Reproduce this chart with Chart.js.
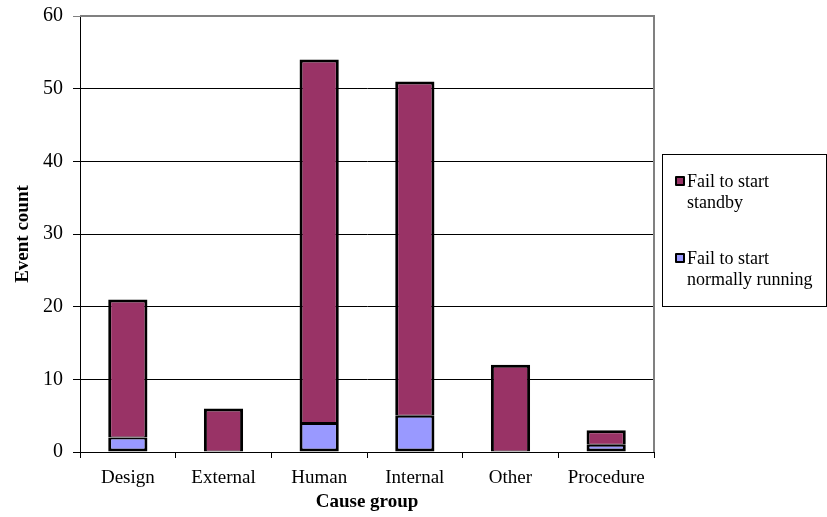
<!DOCTYPE html>
<html lang="en">
<head>
    <meta charset="UTF-8">
    <script src="https://cdn.jsdelivr.net/npm/chart.js"></script>
    <title>Event count by cause group</title>
    <style>
        body { margin: 0; background: #fff; }
        .wrap { position: relative; width: 827px; height: 517px; }
        #legend {
            position: absolute; left: 662px; top: 154px; width: 165px; height: 153px;
            border: 1px solid #000; box-sizing: border-box;
            font-family: "Liberation Serif", serif; font-size: 18px; color: #000;
        }
        .item { position: absolute; left: 12px; line-height: 21px; padding-left: 12px; }
        .item i {
            position: absolute; left: 0; top: 5px; width: 6px; height: 6px;
            border: 2px solid #000; border-radius: 1px;
        }
    </style>
</head>
<body>
<div class="wrap">
    <canvas id="chart" width="827" height="517"></canvas>
    <div id="legend"></div>
</div>
<script>
    const categories = ['Design', 'External', 'Human', 'Internal', 'Other', 'Procedure'];
    const normallyRunning = [2, 0, 4, 5, 0, 1];
    const standby = [19, 6, 50, 46, 12, 2];
    const yTicks = [0, 10, 20, 30, 40, 50, 60];

    const family = '"Liberation Serif", "Times New Roman", serif';

    // gray frame round the plot area (top and right edges)
    const frame = {
        id: 'frame',
        beforeDatasetsDraw(chart) {
            const a = chart.chartArea, ctx = chart.ctx;
            ctx.save();
            ctx.strokeStyle = '#808080';
            ctx.lineWidth = 2;
            ctx.beginPath();
            ctx.moveTo(a.left, a.top);
            ctx.lineTo(a.right, a.top);
            ctx.lineTo(a.right, a.bottom);
            ctx.stroke();
            ctx.restore();
        }
    };

    const chart = new Chart(document.getElementById('chart'), {
        type: 'bar',
        data: {
            labels: categories,
            datasets: [
                {
                    label: 'Fail to start normally running',
                    data: normallyRunning,
                    backgroundColor: '#9999FF',
                    borderColor: '#000',
                    borderWidth: { top: 2, left: 3, right: 3, bottom: 3 },
                    borderSkipped: false
                },
                {
                    label: 'Fail to start standby',
                    data: standby,
                    backgroundColor: '#993366',
                    borderColor: '#000',
                    borderWidth: { top: 3, left: 3, right: 3, bottom: 1 },
                    borderSkipped: false
                }
            ]
        },
        options: {
            responsive: false,
            animation: false,
            layout: { padding: { top: 0, right: 173, bottom: 5, left: 14 } },
            datasets: { bar: { barPercentage: 0.41, categoryPercentage: 1 } },
            plugins: { legend: { display: false }, tooltip: { enabled: false } },
            scales: {
                x: {
                    stacked: true,
                    afterFit: axis => { axis.height = 60; },
                    grid: { drawOnChartArea: false, drawTicks: true, tickLength: 6, color: '#000' },
                    border: { color: '#000', width: 1 },
                    ticks: { color: '#000', font: { family: family, size: 19 }, padding: 9 },
                    title: { display: true, text: 'Cause group', color: '#000', padding: 0,
                        font: { family: family, size: 19, weight: 'bold', lineHeight: 1 } }
                },
                y: {
                    stacked: true,
                    min: 0,
                    max: 60,
                    afterFit: axis => { axis.width = 66; },
                    afterBuildTicks: axis => { axis.ticks = yTicks.map(v => ({ value: v })); },
                    grid: {
                        tickLength: 7,
                        color: ctx => ctx.tick && ctx.tick.value === 60 ? '#808080' : '#000'
                    },
                    border: { color: '#000', width: 1 },
                    ticks: { color: '#000', font: { family: family, size: 20, lineHeight: 0.6 }, padding: 10 },
                    title: { display: true, text: 'Event count', color: '#000', padding: 0,
                        font: { family: family, size: 19, weight: 'bold', lineHeight: 1 } }
                }
            }
        },
        plugins: [frame]
    });

    // legend built from the datasets, standby listed first
    const legend = document.getElementById('legend');
    const tops = [16, 93];
    chart.data.datasets.slice().reverse().forEach((ds, i) => {
        const words = ds.label.split(' ');
        const div = document.createElement('div');
        div.className = 'item';
        div.style.top = tops[i] + 'px';
        div.innerHTML = '<i style="background:' + ds.backgroundColor + '"></i>' +
            words.slice(0, 3).join(' ') + '<br>' + words.slice(3).join(' ');
        legend.appendChild(div);
    });
</script>
</body>
</html>
